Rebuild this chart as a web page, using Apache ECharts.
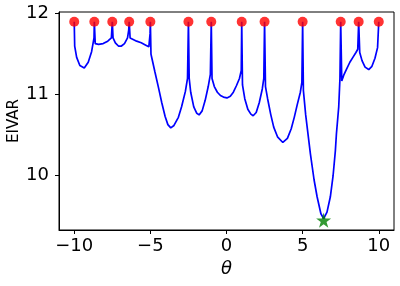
<!DOCTYPE html>
<html>
<head>
<meta charset="utf-8">
<script src="https://cdn.jsdelivr.net/npm/echarts@6/dist/echarts.min.js"></script>
<style>
html,body{margin:0;padding:0;background:#fff;}
#c{width:400px;height:286px;}
</style>
</head>
<body>
<div id="c"></div>
<script>
// EIVAR curve over theta
var curveTheta = [
  -10,-9.97,-9.84,-9.63,-9.34,-9.08,-8.86,-8.7,
  -8.68,-8.62,-8.4,-8.1,-7.8,-7.56,-7.5,
  -7.45,-7.3,-7.1,-6.9,-6.7,-6.5,-6.42,-6.39,
  -6.33,-6.2,-5.9,-5.6,-5.3,-5.1,-5.02,-5,
  -4.96,-4.9,-4.7,-4.47,-4.25,-4.03,-3.85,-3.66,-3.45,-3.16,-2.95,-2.7,-2.56,-2.5,
  -2.45,-2.35,-2.15,-1.95,-1.8,-1.6,-1.4,-1.2,-1.06,-1.0,
  -0.95,-0.8,-0.6,-0.4,-0.2,0.03,0.25,0.45,0.65,0.85,0.97,1.0,
  1.05,1.2,1.4,1.6,1.75,1.95,2.15,2.35,2.45,2.5,
  2.56,2.7,2.9,3.1,3.35,3.7,4.0,4.25,4.45,4.65,4.85,4.95,5.0,
  5.05,5.2,5.51,5.75,5.95,6.2,6.38,6.6,6.82,7.0,7.15,7.22,7.37,7.45,7.5,
  7.57,7.7,7.9,8.1,8.3,8.5,8.62,8.68,
  8.75,8.9,9.1,9.34,9.55,9.75,9.92,10
];
var curveEivar = [
  11.9,11.6,11.46,11.36,11.33,11.4,11.53,11.7,
  11.9,11.63,11.62,11.63,11.66,11.7,11.9,
  11.7,11.64,11.6,11.6,11.63,11.7,11.8,11.9,
  11.7,11.68,11.66,11.64,11.61,11.59,11.75,11.9,
  11.5,11.45,11.28,11.09,10.9,10.73,10.63,10.59,10.62,10.72,10.85,11.04,11.2,11.9,
  11.2,11.03,10.85,10.77,10.75,10.8,10.93,11.1,11.25,11.9,
  11.2,11.1,11.03,10.99,10.97,10.96,10.98,11.03,11.11,11.2,11.3,11.9,
  11.12,10.95,10.82,10.76,10.74,10.78,10.9,11.07,11.2,11.9,
  11.1,10.95,10.76,10.6,10.48,10.41,10.46,10.58,10.72,10.88,11.03,11.15,11.9,
  11.05,10.75,10.27,9.95,9.74,9.53,9.47,9.55,9.74,10.0,10.31,10.52,10.85,11.2,11.9,
  11.17,11.24,11.32,11.4,11.46,11.52,11.56,11.9,
  11.52,11.42,11.34,11.31,11.35,11.45,11.58,11.9
];
// sampled design points (red)
var sampleTheta = [-10,-8.68,-7.5,-6.39,-5,-2.5,-1.0,1.0,2.5,5,7.5,8.68,10];
var sampleEivar = [11.9,11.9,11.9,11.9,11.9,11.9,11.9,11.9,11.9,11.9,11.9,11.9,11.9];
// minimum (green star)
var bestTheta = [6.38];
var bestEivar = [9.45];

var xTicks = [-10,-5,0,5,10];
var yTicks = [10,11,12];

function pairs(a,b){ return a.map(function(v,i){ return [v,b[i]]; }); }
function fmtMinus(v){ return v<0 ? '\u2212'+Math.abs(v) : String(v); }

var chart = echarts.init(document.getElementById('c'), null, {renderer:'canvas'});
chart.setOption({
  animation:false,
  backgroundColor:'#ffffff',
  grid:{left:59,right:6,top:12,bottom:56,containLabel:false,outerBoundsMode:'none',show:true,borderColor:'#000',borderWidth:1,backgroundColor:'transparent'},
  xAxis:{
    type:'value',min:-11,max:11,
    name:'\u03b8',nameLocation:'middle',nameGap:26,
    nameTextStyle:{fontFamily:'DejaVu Sans',fontSize:18,fontStyle:'italic',color:'#000'},
    axisLine:{show:true,onZero:false,lineStyle:{color:'#000',width:1}},
    axisTick:{show:true,inside:false,length:4,lineStyle:{color:'#000'},customValues:xTicks},
    axisLabel:{show:true,margin:7,fontFamily:'DejaVu Sans',fontSize:18,color:'#000',customValues:xTicks,formatter:fmtMinus},
    splitLine:{show:false}
  },
  yAxis:{
    type:'value',min:9.33,max:12.02,
    name:'EIVAR',nameLocation:'middle',nameGap:37,nameRotate:90,nameMoveOverlap:false,
    nameTextStyle:{fontFamily:'DejaVu Sans',fontSize:15,color:'#000'},
    axisLine:{show:true,onZero:false,lineStyle:{color:'#000',width:1}},
    axisTick:{show:true,inside:false,length:4,lineStyle:{color:'#000'},customValues:yTicks},
    axisLabel:{show:true,margin:10,fontFamily:'DejaVu Sans',fontSize:18,color:'#000',customValues:yTicks,formatter:function(v){return String(v);}},
    splitLine:{show:false}
  },
  series:[
    {type:'line',data:pairs(curveTheta,curveEivar),showSymbol:false,symbol:'none',
     lineStyle:{color:'#0000ff',width:1.7},z:2},
    {type:'scatter',data:pairs(sampleTheta,sampleEivar),symbol:'circle',symbolSize:10,
     itemStyle:{color:'#ff0000'},z:3},
    {type:'scatter',data:pairs(bestTheta,bestEivar),symbol:'path://M50,0 L61.8,35.1 L98.9,35.1 L68.9,56.9 L80.3,92.1 L50,70.5 L19.7,92.1 L31.1,56.9 L1.1,35.1 L38.2,35.1 Z',symbolSize:15,
     itemStyle:{color:'#008000'},z:4}
  ]
});
</script>
</body>
</html>
